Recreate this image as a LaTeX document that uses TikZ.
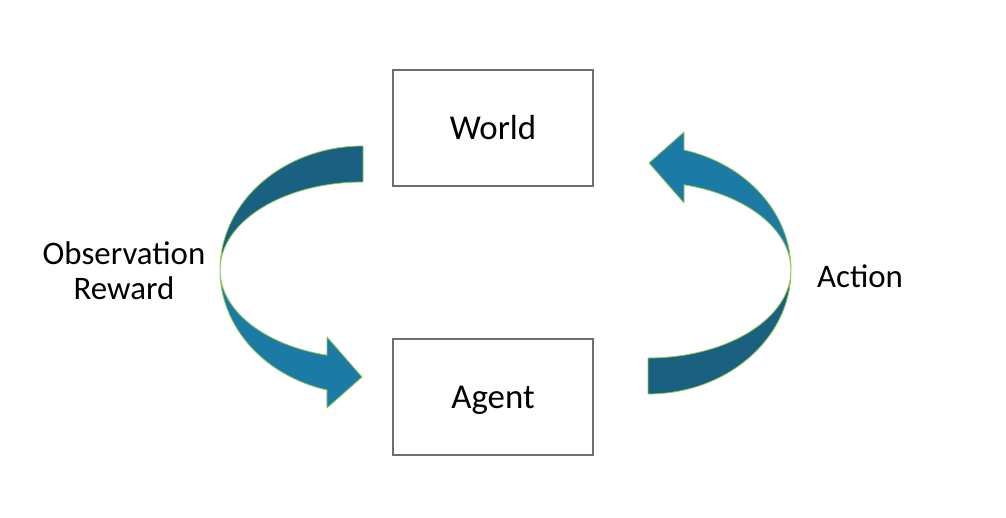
\documentclass[tikz,border=0pt]{standalone}
\usepackage{fontspec}
\setmainfont{Carlito}
\definecolor{bandDark}{RGB}{26,96,128}
\definecolor{bandLight}{RGB}{28,123,165}
\definecolor{bandEdge}{RGB}{146,200,80}
\definecolor{boxEdge}{RGB}{110,110,110}
\tikzset{
	box/.style={draw=boxEdge, line width=1.2bp, minimum width=200bp, minimum height=116bp, inner sep=0pt, text height=22.5bp, text depth=0pt, font=\fontsize{35}{42}\selectfont},
	band/.style={draw=bandEdge, line width=0.8bp, line join=round},
	lbl/.style={font=\fontsize{33}{35}\selectfont, align=center, inner sep=0pt}
}
% bent ribbon arrow round the centre given in #1
\newcommand\bentarrow[1]{%
	\begin{scope}[#1]
		\path[band, fill=bandDark] (0,124) arc[start angle=90, end angle=180, x radius=143, y radius=124]
			arc[start angle=180, end angle=90, x radius=143, y radius=88] -- cycle;
		\path[band, fill=bandLight] (-143,0) arc[start angle=180, end angle=255.4, x radius=143, y radius=124]
			-- (-36,-138) -- (-1,-107) -- (-36,-67) -- (-36,-85.2)
			arc[start angle=255.4, end angle=180, x radius=143, y radius=88] -- cycle;
	\end{scope}}

\begin{document}
\begin{tikzpicture}[x=1bp, y=1bp]
	\useasboundingbox (0,0) rectangle (1006,518);
	\node (world)[box] at (493,390){World};
	\node (agent)[box] at (493,121){Agent};
	%
	\bentarrow{shift={(363,248)}}
	\bentarrow{shift={(648,248)}, rotate=180}
	%
	\node (obs)[lbl] at (124,247){Observation\\Reward};
	\node (act)[lbl, text height=21bp, text depth=0pt] at (860,240.5){Action};
\end{tikzpicture}
\end{document}
